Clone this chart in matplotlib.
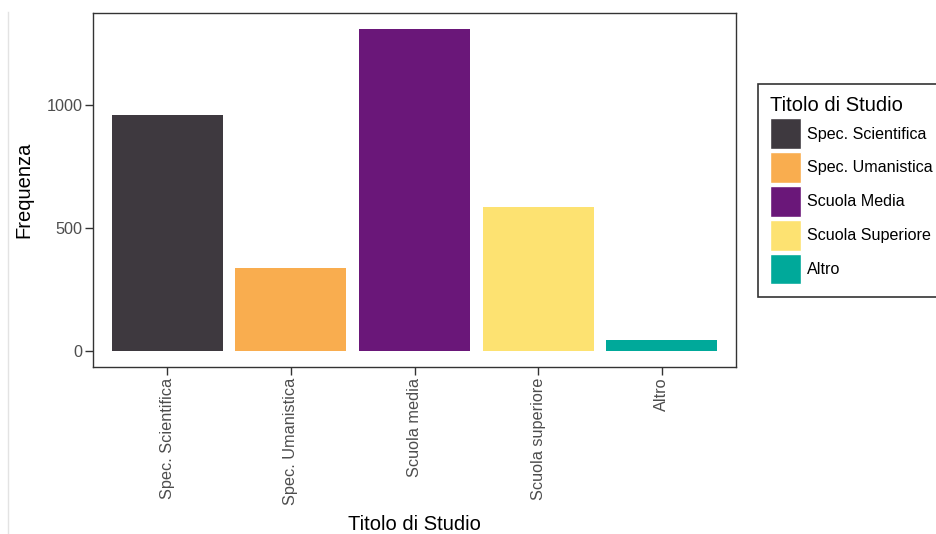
import matplotlib
matplotlib.use("Agg")
import matplotlib.pyplot as plt
from matplotlib.patches import Patch
from matplotlib.lines import Line2D

categories = ["Spec. Scientifica", "Spec. Umanistica", "Scuola media", "Scuola superiore", "Altro"]
legend_labels = ["Spec. Scientifica", "Spec. Umanistica", "Scuola Media", "Scuola Superiore", "Altro"]
values = [960, 336, 1308, 583, 45]
colors = ["#3E393F", "#F9AD4F", "#6A1779", "#FDE271", "#00A99A"]
yticks = [0, 500, 1000]

plt.rcParams["font.family"] = ["Liberation Sans", "DejaVu Sans"]

W, H = 937, 534
fig = plt.figure(figsize=(W / 100, H / 100), dpi=100)
fig.patch.set_facecolor("white")

left, right, top, bottom = 93, 736, 13, 367
ax = fig.add_axes([left / W, 1 - bottom / H, (right - left) / W, (bottom - top) / H])

x = list(range(len(categories)))
ax.bar(x, values, width=0.9, color=colors, edgecolor="none", zorder=2)

vmax = max(values)
ax.set_xlim(-0.6, len(categories) - 0.4)
ax.set_ylim(-0.05 * vmax, 1.05 * vmax)

ax.set_xticks(x)
ax.set_xticklabels(categories, rotation=90, va="top", ha="center")
ax.set_yticks(yticks)
ax.set_yticklabels([str(v) for v in yticks])

for s in ax.spines.values():
    s.set_color("#333333")
    s.set_linewidth(1.0)

ax.tick_params(axis="both", colors="#333333", labelcolor="#4D4D4D", labelsize=11.7,
               length=5.5, width=1.0, pad=2.2)

ax.set_ylabel("Frequenza", fontsize=14.5, color="black")
ax.set_xlabel("Titolo di Studio", fontsize=14.5, color="black")
ax.yaxis.set_label_coords(-0.093, 0.5)
ax.xaxis.set_label_coords(0.5, (bottom - 515) / (bottom - top))

handles = [Patch(facecolor=c, edgecolor="white", linewidth=1.0) for c in colors]
leg = fig.legend(handles, legend_labels, title="Titolo di Studio",
                 loc="upper left", bbox_to_anchor=(758 / W, 1 - 84 / H),
                 borderaxespad=0, fontsize=11.6, title_fontsize=14.5,
                 handlelength=1.9, handleheight=2.55, labelspacing=0.2,
                 handletextpad=0.4, borderpad=0.75, fancybox=False,
                 frameon=True, alignment="left")
leg.get_frame().set_edgecolor("black")
leg.get_frame().set_linewidth(1.2)

fig.add_artist(Line2D([8.5 / W, 8.5 / W], [0, 1 - 12 / H], transform=fig.transFigure,
                      color="#E3E3E3", linewidth=1.0))

fig.savefig("out.png", dpi=100, facecolor="white")
